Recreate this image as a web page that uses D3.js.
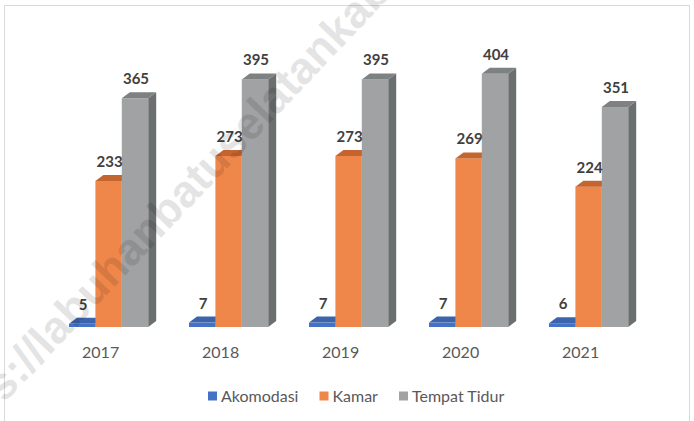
<!DOCTYPE html>
<html>
<head>
<meta charset="utf-8">
<script src="https://cdn.jsdelivr.net/npm/d3@7"></script>
<style>
  body { margin: 0; background: #fff; }
  svg { display: block; font-family: Lato, "Open Sans", sans-serif; }
</style>
</head>
<body>
<div id="canvas"></div>
<script>
// Data
const years = ['2017', '2018', '2019', '2020', '2021'];
const seriesNames = ['Akomodasi', 'Kamar', 'Tempat Tidur'];
const akomodasi = [5, 7, 7, 7, 6];
const kamar = [233, 273, 273, 269, 224];
const tempatTidur = [365, 395, 395, 404, 351];
const seriesValues = [akomodasi, kamar, tempatTidur];

// colours per series: front, top, side
const palette = [
    { front: '#4472C4', top: '#3C64AC', side: '#2F5597' },
    { front: '#F0874A', top: '#C4652F', side: '#B35A26' },
    { front: '#A0A2A3', top: '#7E8181', side: '#6C6F6F' }
];

const width = 694;
const height = 421;
const depthX = 8;
const depthY = -6;

const svg = d3.select('#canvas')
    .append('svg').attr('width', width).attr('height', height);

// chart frame
svg.append('rect')
    .attr('x', 4.5).attr('y', 5.5)
    .attr('width', 685).attr('height', 430)
    .attr('fill', 'none')
    .attr('stroke', '#d9d9d9');

// Scales
const x = d3.scaleBand()
    .domain(years)
    .range([48.6, 648.6])
    .paddingInner(0.34)
    .paddingOuter(0.17);

const xSeries = d3.scaleBand()
    .domain(seriesNames)
    .range([0, x.bandwidth()]);

const y = d3.scaleLinear()
    .domain([0, 450])
    .range([327, 45]);

// Bars, drawn left to right so each bar hides the side of the previous one
const bars = svg.append('g').attr('class', 'bars');
years.forEach((year, i) => {
    seriesNames.forEach((name, s) => {
        const v = seriesValues[s][i];
        const x0 = x(year) + xSeries(name);
        const x1 = x0 + xSeries.bandwidth();
        const yt = y(v);
        const yb = y(0);
        const c = palette[s];

        bars.append('polygon')
            .attr('points', [[x1, yt], [x1 + depthX, yt + depthY], [x1 + depthX, yb + depthY], [x1, yb]].join(' '))
            .attr('fill', c.side);
        bars.append('rect')
            .attr('x', x0).attr('y', yt)
            .attr('width', x1 - x0).attr('height', yb - yt)
            .attr('fill', c.front);
        bars.append('polygon')
            .attr('points', [[x0, yt], [x1, yt], [x1 + depthX, yt + depthY], [x0 + depthX, yt + depthY]].join(' '))
            .attr('fill', c.top);
    });
});

// Data labels
years.forEach((year, i) => {
    seriesNames.forEach((name, s) => {
        const v = seriesValues[s][i];
        svg.append('text')
            .attr('x', x(year) + xSeries(name) + xSeries.bandwidth() / 2 + 1)
            .attr('y', y(v) - 14)
            .attr('text-anchor', 'middle')
            .attr('font-size', 15)
            .attr('font-weight', 'bold')
            .attr('fill', '#404040')
            .text(v);
    });
});

// Category axis labels
const xAxis = d3.axisBottom(x).tickSize(0).tickPadding(0);
const axisG = svg.append('g')
    .attr('transform', `translate(-8,${347})`)
    .call(xAxis);
axisG.select('.domain').remove();
axisG.selectAll('text')
    .attr('font-size', 16)
    .attr('font-family', 'Lato, "Open Sans", sans-serif')
    .attr('fill', '#595959');

// Legend
const legendX = [208, 319.5, 399];
const legend = svg.append('g').attr('class', 'legend');
seriesNames.forEach((name, s) => {
    legend.append('rect')
        .attr('x', legendX[s]).attr('y', 391.5)
        .attr('width', 9).attr('height', 9)
        .attr('fill', palette[s].front);
    legend.append('text')
        .attr('x', legendX[s] + 13).attr('y', 401.5)
        .attr('font-size', 16)
        .attr('fill', '#595959')
        .text(name);
});

// Watermark - anchored so the "a" of "labuhan" sits near the lower left
const wm = svg.append('text')
    .attr('font-family', '"Liberation Sans", Arial, sans-serif')
    .attr('font-weight', 'bold')
    .attr('font-size', 45)
    .attr('fill', '#000')
    .attr('opacity', 0.1)
    .text('https://labuhanbatuselatankab.go.id');
const wmNode = wm.node();
const wmOffset = wmNode.getSubStringLength(0, 9) + wmNode.getSubStringLength(9, 1) / 2;
wm.attr('transform', `translate(66,338) rotate(-46.5) translate(${-wmOffset},0)`);
</script>
</body>
</html>
